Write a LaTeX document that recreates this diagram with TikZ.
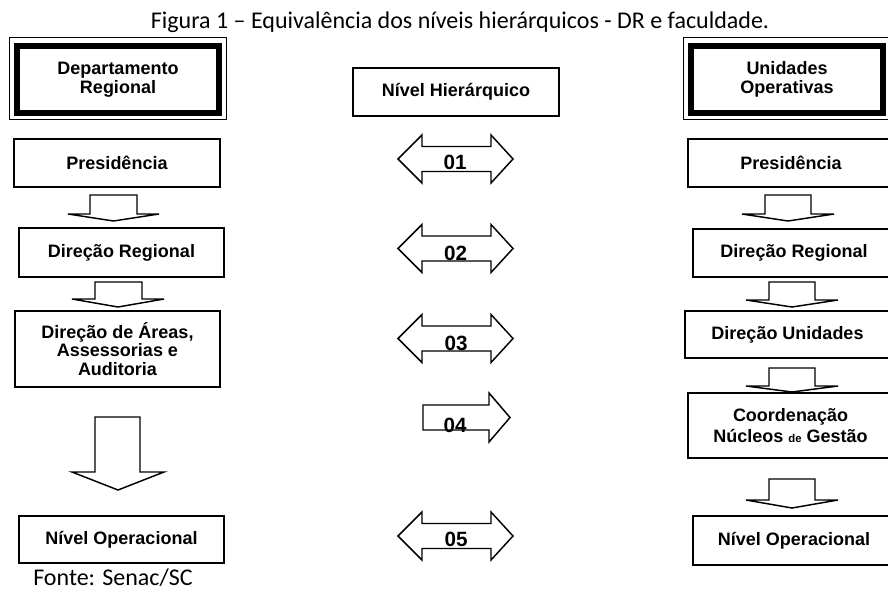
\documentclass[tikz,border=0pt]{standalone}
\usepackage{fontspec}
\setmainfont{Liberation Sans}
\newfontfamily\calib{Carlito}
\newcommand\boxfont{\fontsize{13.5pt}{14pt}\selectfont\bfseries}
\newcommand\wideboxfont{\fontsize{13.5pt}{15.5pt}\selectfont\bfseries}
\newcommand\numfont{\fontsize{15.5pt}{18pt}\selectfont\bfseries}
\newcommand\capfont{\calib\fontsize{18pt}{20pt}\selectfont}
\newcommand\smallde{{\fontsize{8.5pt}{10pt}\selectfont de}}
\tikzset{
  box/.style={draw, line width=1.2pt, font=\boxfont, align=center, inner sep=0pt},
  thinframe/.style={draw, line width=1pt, inner sep=0pt},
  thickframe/.style={draw, line width=4.5pt, font=\boxfont, align=center, inner sep=0pt},
  blk/.style={draw, line width=1.1pt, line join=miter, fill=white},
  num/.style={font=\numfont, inner sep=0pt},
  captext/.style={font=\capfont, inner sep=0pt}
}
% down block arrow: shaftL shaftR top wingY wingL wingR tipY
\newcommand\blkdown[7]{\draw[blk] (#1,#3) -- (#1,#4) -- (#5,#4) -- ({(#5+#6)/2},#7) -- (#6,#4) -- (#2,#4) -- (#2,#3) -- cycle;}
% double block arrow centred at y
\newcommand\blkdouble[1]{\draw[blk] (398,#1) -- (422,#1-24) -- (422,#1-12.5) -- (491,#1-12.5) -- (491,#1-24) -- (513,#1) -- (491,#1+24) -- (491,#1+12.5) -- (422,#1+12.5) -- (422,#1+24) -- cycle;}
\begin{document}
\begin{tikzpicture}[x=0.75pt, y=-0.75pt]
\useasboundingbox (0,0) rectangle (888,590);
\clip (0,0) rectangle (888,590);
% title and source
\node[captext, anchor=base] (title) at (460,28) {Figura 1 – Equivalência dos níveis hierárquicos - DR e faculdade.};
\node[captext, anchor=base west] (fonte) at (33,585) {Fonte: Senac/SC};
% headers
\node[thinframe, minimum width={217*0.75pt}, minimum height={82*0.75pt}] (drO) at (118,78.5) {};
\node[thickframe, minimum width={202*0.75pt}, minimum height={67*0.75pt}] (dr) at (118,79.5) {Departamento\\Regional};
\node[box, minimum width={206*0.75pt}, minimum height={48*0.75pt}] (nh) at (456,92) {Nível Hierárquico};
\node[thinframe, minimum width={207*0.75pt}, minimum height={82*0.75pt}] (uoO) at (787,78.5) {};
\node[thickframe, minimum width={192*0.75pt}, minimum height={67*0.75pt}] (uo) at (787,79.5) {Unidades\\Operativas};
% left column
\node[box, minimum width={206*0.75pt}, minimum height={48*0.75pt}] (presL) at (117,163) {Presidência};
\node[box, minimum width={205*0.75pt}, minimum height={49*0.75pt}] (dirL) at (121.5,252.5) {Direção Regional};
\node[box, minimum width={205*0.75pt}, minimum height={76*0.75pt}] (areL) at (117.5,349) {Direção de Áreas,\\Assessorias e\\Auditoria};
\node[box, minimum width={205*0.75pt}, minimum height={47*0.75pt}] (opL) at (121.5,539.5) {Nível Operacional};
% right column
\node[box, minimum width={206*0.75pt}, minimum height={48*0.75pt}] (presR) at (791,163) {Presidência};
\node[box, minimum width={202*0.75pt}, minimum height={48*0.75pt}] (dirR) at (794,253) {Direção Regional};
\node[box, minimum width={205*0.75pt}, minimum height={47*0.75pt}] (uniR) at (787.5,334.5) {Direção Unidades};
\node[box, font=\wideboxfont, minimum width={205*0.75pt}, minimum height={65*0.75pt}] (cooR) at (790.5,425.5) {Coordenação\\Núcleos \smallde\ Gestão};
\node[box, minimum width={202*0.75pt}, minimum height={49*0.75pt}] (opR) at (794,540.5) {Nível Operacional};
% down arrows left
\blkdown{90}{137}{195}{214}{68}{159}{221}
\blkdown{95}{142}{282}{299}{72}{164}{307}
\blkdown{95}{140}{417}{472}{72}{164}{490}
% down arrows right
\blkdown{765}{811}{195}{214}{742}{834}{221}
\blkdown{769}{815}{282}{300}{746}{838}{307}
\blkdown{769}{815}{368}{386}{746}{838}{392}
\blkdown{769}{815}{479}{500}{746}{838}{508}
% level arrows
\blkdouble{159}
\blkdouble{248.5}
\blkdouble{338.5}
\draw[blk] (423,405) -- (489,405) -- (489,393) -- (510,417.5) -- (489,442) -- (489,430) -- (423,430) -- cycle;
\blkdouble{536}
\node[num] (n1) at (455,162.5) {01};
\node[num] (n2) at (455.5,253) {02};
\node[num] (n3) at (456,343) {03};
\node[num] (n4) at (455,425) {04};
\node[num] (n5) at (456,539.5) {05};
\end{tikzpicture}
\end{document}
